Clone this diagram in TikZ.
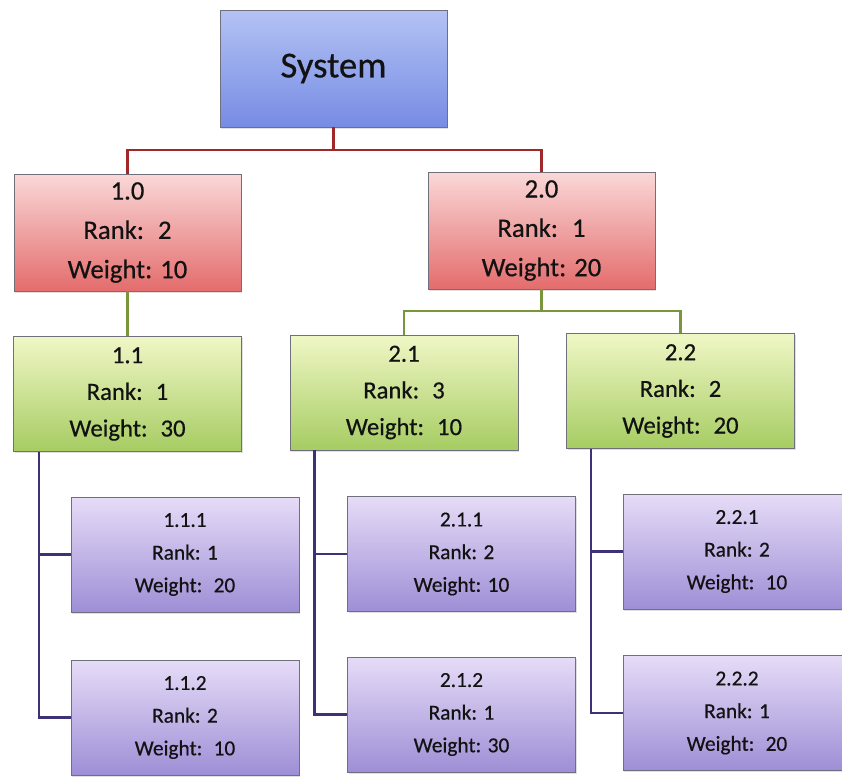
\documentclass[tikz,border=0pt]{standalone}
\usepackage{fontspec}
\setmainfont{Carlito}[FakeBold=0.5]
\usetikzlibrary{shadows}

\definecolor{sysTop}{RGB}{180,194,244}
\definecolor{sysBot}{RGB}{118,140,228}
\definecolor{redTop}{RGB}{250,216,216}
\definecolor{redBot}{RGB}{228,108,108}
\definecolor{grnTop}{RGB}{240,247,198}
\definecolor{grnBot}{RGB}{166,204,98}
\definecolor{purTop}{RGB}{230,220,247}
\definecolor{purBot}{RGB}{158,142,214}
\definecolor{boxEdge}{RGB}{112,112,124}
\definecolor{lnRed}{RGB}{160,40,40}
\definecolor{lnGrn}{RGB}{120,150,60}
\definecolor{lnPur}{RGB}{60,50,120}
\definecolor{ink}{RGB}{18,18,18}

\tikzset{
  x=0.75pt, y=-0.75pt,
  box/.style={rectangle, draw=boxEdge, line width=0.7pt, align=center,
    text=ink, inner sep=0pt,
    drop shadow={shadow xshift=0.8pt, shadow yshift=-1.2pt, opacity=0.25}},
  sysbox/.style={box, top color=sysTop, bottom color=sysBot,
    minimum width=170.25pt, minimum height=87.75pt,
    font=\fontsize{27.5}{32}\selectfont},
  lvtwo/.style={box, top color=redTop, bottom color=redBot,
    minimum width=170.25pt, minimum height=87.75pt,
    font=\fontsize{20}{29.5}\selectfont},
  lvthree/.style={box, top color=grnTop, bottom color=grnBot,
    minimum width=171pt, minimum height=86.25pt,
    font=\fontsize{18.5}{27.5}\selectfont},
  lvfour/.style={box, top color=purTop, bottom color=purBot,
    minimum width=171pt, minimum height=86.25pt,
    font=\fontsize{16}{24.5}\selectfont},
  redline/.style={draw=lnRed, line width=1.9pt},
  grnline/.style={draw=lnGrn, line width=1.9pt},
  purline/.style={draw=lnPur, line width=1.9pt},
}

\begin{document}
\begin{tikzpicture}
\useasboundingbox (0,0) rectangle (842,776);

% top level
\node[sysbox] (sys) at (333.5,68.5) {System};

% first tier
\node[lvtwo] (n10) at (127.5,232.5) {1.0\\Rank:~ 2\\Weight: 10};
\node[lvtwo] (n20) at (541.5,230.5) {2.0\\Rank:~ 1\\Weight: 20};

% second tier
\node[lvthree] (n11) at (127.5,394) {1.1\\Rank:~ 1\\Weight:~ 30};
\node[lvthree] (n21) at (404,392.5) {2.1\\Rank:~ 3\\Weight:~ 10};
\node[lvthree] (n22) at (680.5,391) {2.2\\Rank:~ 2\\Weight:~ 20};

% third tier
\node[lvfour] (n111) at (185,554.5) {1.1.1\\Rank: 1\\Weight:~ 20};
\node[lvfour] (n112) at (185,717.5) {1.1.2\\Rank: 2\\Weight:~ 10};
\node[lvfour] (n211) at (461.5,554) {2.1.1\\Rank: 2\\Weight: 10};
\node[lvfour] (n212) at (461.5,714.5) {2.1.2\\Rank: 1\\Weight: 30};
\node[lvfour] (n221) at (737,551.5) {2.2.1\\Rank: 2\\Weight:~ 10};
\node[lvfour] (n222) at (737,713) {2.2.2\\Rank: 1\\Weight:~ 20};

% connectors: system to first tier
\coordinate (busA) at (333.5,150);
\draw[redline] (sys.south) -- (busA);
\draw[redline] (busA) -| (n10.north);
\draw[redline] (busA) -| (n20.north);

% first tier to second tier
\draw[grnline] (n10.south) -- (n11.north);
\coordinate (busB) at (541.5,311);
\draw[grnline] (n20.south) -- (busB);
\draw[grnline] (busB) -| (n21.north);
\draw[grnline] (busB) -| (n22.north);

% second tier to third tier
\draw[purline] (n11.south west) ++(26,0) |- (n111.west);
\draw[purline] (n11.south west) ++(26,0) |- (n112.west);
\draw[purline] (n21.south west) ++(25,0) |- (n211.west);
\draw[purline] (n21.south west) ++(25,0) |- (n212.west);
\draw[purline] (n22.south west) ++(25,0) |- (n221.west);
\draw[purline] (n22.south west) ++(25,0) |- (n222.west);
\end{tikzpicture}
\end{document}
